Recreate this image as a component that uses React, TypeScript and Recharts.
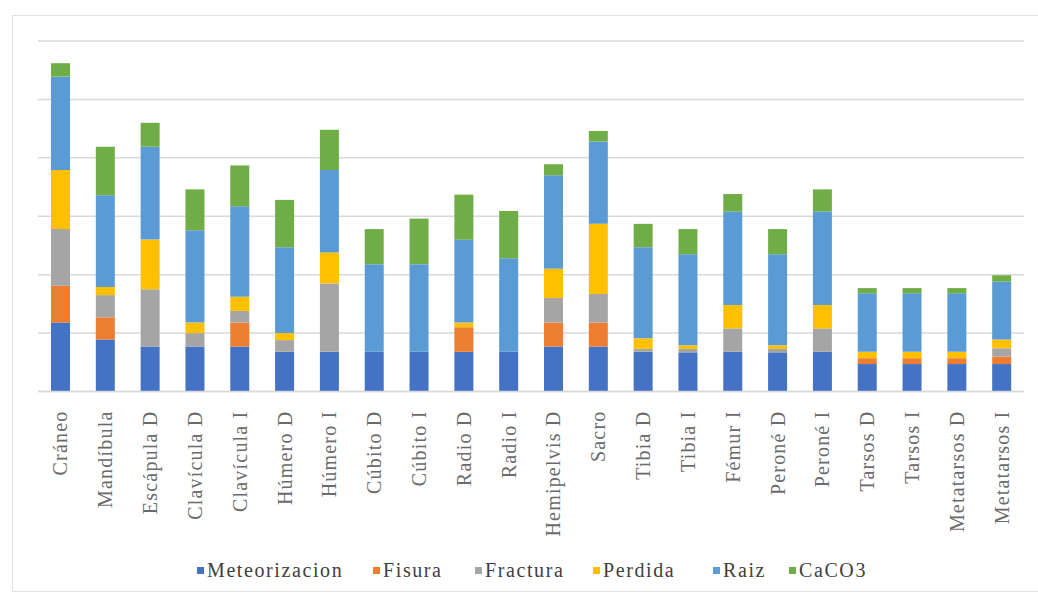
import React from 'react';
import { BarChart, Bar, XAxis, YAxis, CartesianGrid } from 'recharts';

const categories = ['Cráneo', 'Mandíbula', 'Escápula D', 'Clavícula D', 'Clavícula I', 'Húmero D', 'Húmero I', 'Cúbito D', 'Cúbito I', 'Radio D', 'Radio I', 'Hemipelvis D', 'Sacro', 'Tibia D', 'Tibia I', 'Fémur I', 'Peroné D', 'Peroné I', 'Tarsos D', 'Tarsos I', 'Metatarsos D', 'Metatarsos I'];
const meteorizacion = [11.8, 8.9, 7.7, 7.7, 7.7, 6.8, 6.8, 6.8, 6.8, 6.8, 6.8, 7.7, 7.7, 6.8, 6.7, 6.8, 6.7, 6.8, 4.7, 4.7, 4.7, 4.7];
const fisura = [6.3, 3.8, 0, 0, 4.1, 0, 0, 0, 0, 4.2, 0, 4.1, 4.1, 0, 0, 0, 0, 0, 1.0, 1.0, 1.0, 1.3];
const fractura = [9.7, 3.8, 9.8, 2.3, 2.0, 2.0, 11.7, 0, 0, 0, 0, 4.2, 4.9, 0.5, 0.6, 4.0, 0.6, 4.0, 0, 0, 0, 1.4];
const perdida = [10.1, 1.4, 8.5, 1.8, 2.4, 1.2, 5.3, 0, 0, 0.8, 0, 5.0, 12.0, 1.8, 0.6, 4.0, 0.6, 4.0, 1.1, 1.1, 1.1, 1.5];
const raiz = [16.0, 15.7, 15.9, 15.8, 15.5, 14.7, 14.1, 15.0, 15.0, 14.2, 16.0, 16.0, 14.1, 15.6, 15.6, 16.0, 15.6, 16.0, 10.0, 10.0, 10.0, 9.9];
const caco3 = [2.3, 8.3, 4.1, 7.0, 7.0, 8.1, 6.9, 6.0, 7.8, 7.7, 8.1, 1.9, 1.8, 4.0, 4.3, 3.0, 4.3, 3.8, 0.9, 0.9, 0.9, 1.1];
const yTicks = [0, 10, 20, 30, 40, 50, 60];

const seriesNames = ['Meteorizacion', 'Fisura', 'Fractura', 'Perdida', 'Raiz', 'CaCO3'];
const seriesKeys = ['met', 'fis', 'fra', 'per', 'rai', 'cac'];
const seriesColors = ['#4472C4', '#ED7D31', '#A5A5A5', '#FFC000', '#5B9BD5', '#70AD47'];
const legendLeft = [197, 373, 475, 593, 713, 789];

const data = categories.map((c, i) => ({
  name: c,
  met: meteorizacion[i],
  fis: fisura[i],
  fra: fractura[i],
  per: perdida[i],
  rai: raiz[i],
  cac: caco3[i],
}));

const FONT = "'Times New Roman', 'Liberation Serif', 'DejaVu Serif', Times, serif";

const Tick = (props: any) => {
  const { x, y, payload } = props;
  return (
    <text
      x={x + 7}
      y={y + 11}
      transform={`rotate(-90, ${x + 7}, ${y + 11})`}
      textAnchor="end"
      style={{ fontFamily: FONT, fontSize: 20, letterSpacing: 1.2 }}
      fill="#6b6b6b"
    >
      {payload.value}
    </text>
  );
};

export default function App() {
  return (
    <div style={{ position: 'absolute', left: 0, top: 0, width: 1038, height: 600, background: '#fff', overflow: 'hidden' }}>
      <div style={{ position: 'absolute', left: 12, top: 15, width: 1040, height: 577, border: '1px solid #e0e0e0', boxSizing: 'border-box' }} />
      <div style={{ position: 'absolute', left: 0, top: 0 }}>
        <BarChart width={1038} height={600} data={data} margin={{ top: 41, right: 14, bottom: 0, left: 38 }} barSize={19}>
          <CartesianGrid vertical={false} stroke="#d9d9d9" strokeWidth={1.5} />
          <XAxis dataKey="name" interval={0} height={208.5} tickLine={false} axisLine={{ stroke: '#d9d9d9', strokeWidth: 1.5 }} tick={<Tick />} />
          <YAxis hide domain={[0, 60]} ticks={yTicks} width={0} />
          {seriesKeys.map((k, i) => (
            <Bar key={k} dataKey={k} name={seriesNames[i]} stackId="a" fill={seriesColors[i]} isAnimationActive={false} />
          ))}
        </BarChart>
      </div>
      {seriesNames.map((n, i) => (
        <div key={n} style={{ position: 'absolute', left: legendLeft[i], top: 558, height: 24, display: 'flex', alignItems: 'center', fontFamily: FONT, fontSize: 20, letterSpacing: 1.6, color: '#404040', whiteSpace: 'nowrap' }}>
          <span style={{ display: 'inline-block', width: 7, height: 7, background: seriesColors[i], marginRight: 3 }} />
          <span>{n}</span>
        </div>
      ))}
    </div>
  );
}
